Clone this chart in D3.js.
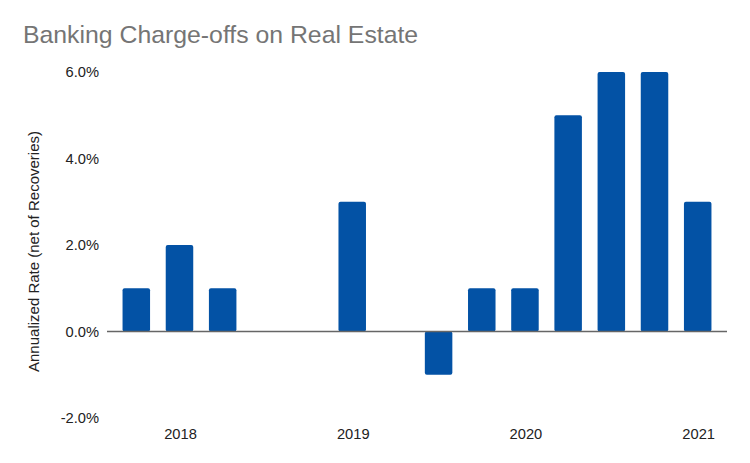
<!DOCTYPE html>
<html>
<head>
<meta charset="utf-8">
<script src="https://cdn.jsdelivr.net/npm/d3@7"></script>
<style>
  body { margin: 0; background: #fff; }
  text { font-family: "Liberation Sans", Arial, sans-serif; }
</style>
</head>
<body>
<script>
// quarterly charge-off rates, 2018 Q1 .. 2021 Q2
var quarters = ["2018Q1", "2018Q2", "2018Q3", "2018Q4", "2019Q1", "2019Q2", "2019Q3",
                "2019Q4", "2020Q1", "2020Q2", "2020Q3", "2020Q4", "2021Q1", "2021Q2"];
var rates = [1, 2, 1, 0, 0, 3, 0, -1, 1, 1, 5, 6, 6, 3];
var yearLabels = ["2018", "2019", "2020", "2021"];
var yearAt = ["2018Q2", "2019Q2", "2020Q2", "2021Q2"];
var yTicks = [-2, 0, 2, 4, 6];

var w = 750, h = 463;

var svg = d3.select("body").append("svg")
    .attr("width", w)
    .attr("height", h);

svg.append("text")
    .attr("x", 23)
    .attr("y", 43)
    .attr("fill", "#757575")
    .style("font-size", "24.8px")
    .text("Banking Charge-offs on Real Estate");

var x = d3.scaleBand()
    .domain(quarters)
    .range([107, 727])
    .paddingInner(0.363)
    .paddingOuter(0.36);

var y = d3.scaleLinear()
    .domain([-2, 6])
    .range([418, 72]);

// y tick labels
svg.selectAll(".ytick")
    .data(yTicks)
  .enter().append("text")
    .attr("class", "ytick")
    .attr("x", 99)
    .attr("y", function (d) { return y(d); })
    .attr("dy", "0.36em")
    .attr("text-anchor", "end")
    .attr("fill", "#222")
    .style("font-size", "14.7px")
    .text(function (d) { return d.toFixed(1) + "%"; });

// year labels
svg.selectAll(".xtick")
    .data(yearLabels)
  .enter().append("text")
    .attr("class", "xtick")
    .attr("x", function (d, i) { return x(yearAt[i]) + x.bandwidth() / 2 + 1; })
    .attr("y", 438.5)
    .attr("text-anchor", "middle")
    .attr("fill", "#222")
    .style("font-size", "14.7px")
    .text(function (d) { return d; });

// axis title
svg.append("text")
    .attr("transform", "translate(38.5," + 251.5 + ") rotate(-90)")
    .attr("text-anchor", "middle")
    .attr("fill", "#222")
    .style("font-size", "15px")
    .text("Annualized Rate (net of Recoveries)");

// bars
svg.selectAll(".bar")
    .data(rates.map(function (v, i) { return {q: quarters[i], v: v}; })
        .filter(function (d) { return d.v !== 0; }))
  .enter().append("rect")
    .attr("class", "bar")
    .attr("x", function (d) { return x(d.q); })
    .attr("width", x.bandwidth())
    .attr("y", function (d) { return y(Math.max(0, d.v)); })
    .attr("height", function (d) { return Math.abs(y(d.v) - y(0)); })
    .attr("rx", 2)
    .attr("fill", "#0352a5");

// zero baseline
svg.append("line")
    .attr("x1", 107)
    .attr("x2", 727)
    .attr("y1", y(0))
    .attr("y2", y(0))
    .attr("stroke", "#666")
    .attr("stroke-width", 1.5);
</script>
</body>
</html>
